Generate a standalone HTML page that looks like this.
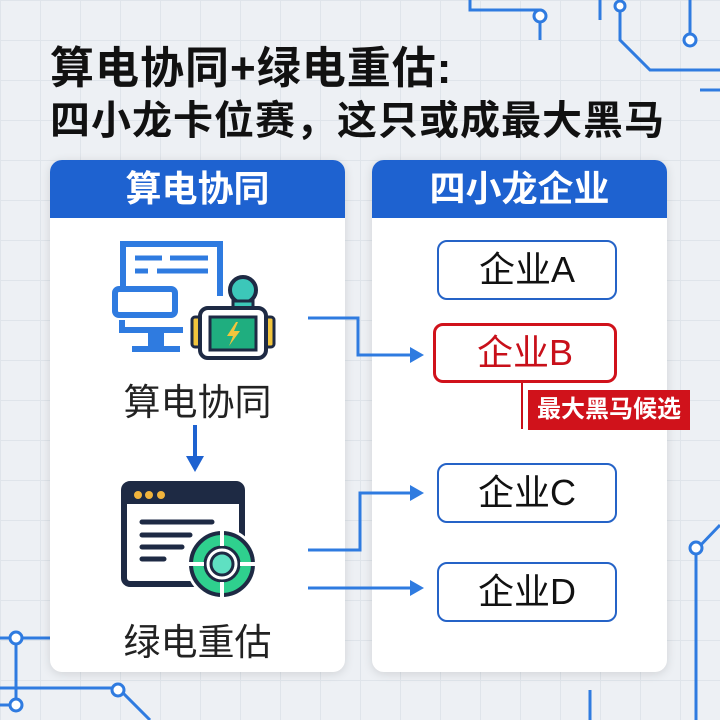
<!DOCTYPE html>
<html><head><meta charset="utf-8"><style>
*{margin:0;padding:0;box-sizing:border-box}
body{width:720px;height:720px;overflow:hidden;position:relative;background:#edf0f4;font-family:"Liberation Sans","Noto Sans CJK SC",sans-serif;
background-image:linear-gradient(#dfe4ea 1px,transparent 1px),linear-gradient(90deg,#dfe4ea 1px,transparent 1px);background-size:40px 40px}
.abs{position:absolute}
.t1{left:50px;top:32px;font-size:44px;font-weight:bold;color:#111;letter-spacing:1px;white-space:nowrap}
.t2{left:50px;top:88px;font-size:40px;font-weight:bold;color:#111;letter-spacing:1px;white-space:nowrap}
.panel{top:160px;width:295px;height:512px;background:#fff;border-radius:12px;box-shadow:0 2px 10px rgba(0,0,0,.12);overflow:hidden}
.hd{height:58px;background:#1e62d0;color:#fff;font-size:36px;font-weight:bold;text-align:center;line-height:58px}
.box{width:180px;height:60px;border:2px solid #2563c7;border-radius:10px;background:#fff;font-size:36px;text-align:center;line-height:56px;color:#111}
.lbl{font-size:37px;color:#222;width:295px;text-align:center}
</style></head><body>
<svg class="abs" style="left:0;top:0" width="720" height="720">
<g stroke="#2f7be0" stroke-width="3" fill="none">
<path d="M470 0 L470 10 L540 10 L540 40"/><path d="M620 0 L620 40 L650 70 L720 70"/><path d="M690 0 L690 35"/>
<path d="M600 0 L600 20"/><path d="M700 90 L720 90"/>
<path d="M696 550 L696 720"/><path d="M696 550 L720 525"/>
<path d="M0 638 L50 638"/><path d="M16 640 L16 705"/><path d="M0 705 L16 705"/>
<path d="M0 688 L118 688 L150 720"/>
<path d="M590 690 L590 720"/>
</g>
<g fill="#fff" stroke="#2f7be0" stroke-width="3">
<circle cx="540" cy="16" r="6"/><circle cx="690" cy="40" r="6"/><circle cx="696" cy="548" r="6"/><circle cx="16" cy="638" r="6"/><circle cx="16" cy="705" r="6"/><circle cx="118" cy="690" r="6"/><circle cx="620" cy="6" r="5"/>
</g>
</svg>
<div class="abs t1">算电协同+绿电重估:</div>
<div class="abs t2">四小龙卡位赛，这只或成最大黑马</div>
<div class="abs panel" style="left:50px"><div class="hd">算电协同</div>
<div class="abs lbl" style="left:0;top:212px">算电协同</div>
<div class="abs lbl" style="left:0;top:452px">绿电重估</div>
</div>
<div class="abs panel" style="left:372px"><div class="hd">四小龙企业</div></div>
<div class="abs box" style="left:437px;top:240px">企业A</div>
<div class="abs box" style="left:433px;top:323px;width:184px;border-color:#d0121b;border-width:3px;color:#c8101a;line-height:54px">企业B</div>
<div class="abs" style="left:521px;top:383px;width:2px;height:46px;background:#c8101a"></div>
<div class="abs" style="left:528px;top:390px;width:162px;height:40px;background:#d0121b;color:#fff;font-size:24px;font-weight:bold;text-align:center;line-height:40px">最大黑马候选</div>
<div class="abs box" style="left:437px;top:463px">企业C</div>
<div class="abs box" style="left:437px;top:562px">企业D</div>
<svg class="abs" style="left:0;top:0" width="720" height="720">
<g stroke="#2f7be0" stroke-width="3" fill="none">
<path d="M308 318 L358 318 L358 355 L412 355"/><path d="M308 550 L360 550 L360 493 L412 493"/><path d="M308 588 L412 588"/>
</g>
<g fill="#2f7be0"><path d="M424 355 L410 347 L410 363Z"/><path d="M424 493 L410 485 L410 501Z"/><path d="M424 588 L410 580 L410 596Z"/></g>
<path d="M195 425 L195 458" stroke="#1e62d0" stroke-width="4"/><path d="M195 472 L186 456 L204 456Z" fill="#1e62d0"/>
<g fill="none" stroke="#2f7be0" stroke-width="6">
<path d="M140 290 L123 290 L123 244 L220 244 L220 296"/>
<path d="M122 320 L122 330 L183 330"/>
</g>
<g stroke="#2f7be0" stroke-width="5"><path d="M135 258 L162 258 M170 258 L208 258 M135 271 L148 271 M157 271 L208 271"/></g>
<rect x="115" y="289" width="60" height="26" rx="4" fill="#fff" stroke="#2f7be0" stroke-width="6"/>
<rect x="148" y="330" width="16" height="18" fill="#2f7be0"/><rect x="132" y="346" width="48" height="6" fill="#2f7be0"/>
<circle cx="243" cy="290" r="13" fill="#3cc7b9" stroke="#1e2a44" stroke-width="4"/>
<rect x="233" y="301" width="20" height="10" fill="#3cc7b9" stroke="#1e2a44" stroke-width="3"/>
<rect x="192" y="317" width="12" height="30" rx="3" fill="#f2c53d" stroke="#1e2a44" stroke-width="3"/>
<rect x="262" y="317" width="12" height="30" rx="3" fill="#f2c53d" stroke="#1e2a44" stroke-width="3"/>
<rect x="200" y="308" width="66" height="50" rx="8" fill="#fff" stroke="#1e2a44" stroke-width="4"/>
<rect x="210" y="317" width="46" height="33" fill="#1fae7f" stroke="#1e2a44" stroke-width="3"/>
<path d="M236 322 L227 336 L233 336 L229 346 L240 331 L234 331 L238 322Z" fill="#f2c53d"/>
<rect x="124" y="484" width="118" height="100" rx="6" fill="#fff" stroke="#1e2a44" stroke-width="6"/>
<rect x="124" y="484" width="118" height="20" fill="#1e2a44"/>
<g fill="#f2b43c"><circle cx="138" cy="495" r="4"/><circle cx="149" cy="495" r="4"/><circle cx="161" cy="495" r="4"/></g>
<g stroke="#1e2a44" stroke-width="5" stroke-linecap="round"><path d="M142 522 L212 522 M142 535 L190 535 M142 547 L182 547 M142 559 L164 559"/></g>
<circle cx="222" cy="564" r="36" fill="#fff"/>
<circle cx="222" cy="564" r="31" fill="#2fd08e" stroke="#1e2a44" stroke-width="4"/>
<circle cx="222" cy="564" r="17" fill="#fff" stroke="#1e2a44" stroke-width="3"/>
<circle cx="222" cy="564" r="11" fill="#5fe0c2" stroke="#1e2a44" stroke-width="3"/>
<g stroke="#fff" stroke-width="4"><path d="M188 564 L204 564 M240 564 L256 564 M222 530 L222 546 M222 582 L222 598"/></g>
</svg>
</body></html>
